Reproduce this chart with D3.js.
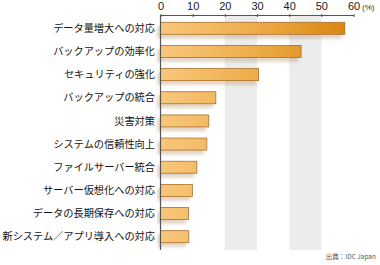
<!DOCTYPE html>
<meta charset="utf-8">
<html>
<head>
<style>
  body { margin: 0; background: #fff; }
  svg { display: block; font-family: "Noto Sans CJK JP", "Noto Sans", sans-serif; }
</style>
</head>
<body>
<div id="chart"></div>
<script src="https://cdn.jsdelivr.net/npm/d3@7/dist/d3.min.js"></script>
<script>
// data
var categories = ["データ量増大への対応", "バックアップの効率化", "セキュリティの強化", "バックアップの統合",
  "災害対策", "システムの信頼性向上", "ファイルサーバー統合", "サーバー仮想化への対応",
  "データの長期保存への対応", "新システム／アプリ導入への対応"];
var values = [57.3, 43.7, 30.5, 17.2, 15.0, 14.4, 11.3, 9.9, 8.7, 8.8];
var ticks = [0, 10, 20, 30, 40, 50, 60];
var bands = [[20, 30], [40, 50]];

var W = 380, H = 265;
var svg = d3.select("#chart").append("svg")
  .attr("width", W).attr("height", H);

var x = d3.scaleLinear().domain([0, 60]).range([160.5, 353.5]);
var y = d3.scalePoint().domain(categories).range([28.3, 236.7]);
var barH = 12;
var axisY = 15, plotBottom = 250;

var defs = svg.append("defs");
var grad = defs.append("linearGradient").attr("id", "barGrad")
  .attr("gradientUnits", "userSpaceOnUse")
  .attr("x1", x(0)).attr("x2", x(58)).attr("y1", 0).attr("y2", 0);
grad.append("stop").attr("offset", "0%").attr("stop-color", "#f8c77c");
grad.append("stop").attr("offset", "45%").attr("stop-color", "#f0b050");
grad.append("stop").attr("offset", "100%").attr("stop-color", "#d9860f");

var f = defs.append("filter").attr("id", "shadow")
  .attr("x", "-10%").attr("y", "-30%").attr("width", "120%").attr("height", "200%");
f.append("feGaussianBlur").attr("in", "SourceAlpha").attr("stdDeviation", 1.6).attr("result", "b");
f.append("feOffset").attr("in", "b").attr("dx", -3).attr("dy", 4).attr("result", "o");
f.append("feFlood").attr("flood-color", "#b08a60").attr("flood-opacity", 0.35);
f.append("feComposite").attr("in2", "o").attr("operator", "in").attr("result", "s");
var m = f.append("feMerge");
m.append("feMergeNode").attr("in", "s");
m.append("feMergeNode").attr("in", "SourceGraphic");

// gray bands
svg.selectAll("rect.band").data(bands).enter().append("rect")
  .attr("class", "band")
  .attr("x", function(d) { return x(d[0]); })
  .attr("width", function(d) { return x(d[1]) - x(d[0]); })
  .attr("y", axisY + 1).attr("height", plotBottom - axisY - 1)
  .attr("fill", "#ececec");

// bars
svg.selectAll("rect.bar").data(values).enter().append("rect")
  .attr("class", "bar")
  .attr("x", x(0))
  .attr("y", function(d, i) { return y(categories[i]) - barH / 2; })
  .attr("width", function(d) { return x(d) - x(0); })
  .attr("height", barH)
  .attr("fill", "url(#barGrad)")
  .attr("stroke", "#a9702a")
  .attr("stroke-width", 0.8)
  .attr("filter", "url(#shadow)");

// axis lines
svg.append("line").attr("x1", x(0)).attr("x2", x(0)).attr("y1", axisY).attr("y2", plotBottom)
  .attr("stroke", "#555").attr("stroke-width", 1.2);
var ax = svg.append("g").attr("transform", "translate(0," + axisY + ")")
  .call(d3.axisTop(x).tickValues(ticks).tickSize(3).tickSizeOuter(0).tickPadding(2));
ax.select(".domain").attr("stroke", "#555").attr("stroke-width", 1.2);
ax.selectAll(".tick line").attr("stroke", "#555").attr("transform", "translate(0,2)");
ax.selectAll(".tick text").attr("font-size", 11).attr("fill", "#222")
  .attr("font-family", "Liberation Sans, Arial, sans-serif");

svg.append("text").attr("x", 362).attr("y", 10).attr("font-size", 8).attr("fill", "#333")
  .attr("font-family", "Liberation Sans, Arial, sans-serif").text("(%)");

// category labels
svg.selectAll("text.lab").data(categories).enter().append("text")
  .attr("class", "lab")
  .attr("x", 155)
  .attr("y", function(d) { return y(d); })
  .attr("dy", "0.36em")
  .attr("text-anchor", "end")
  .attr("font-size", 10.2)
  .attr("fill", "#111")
  .text(function(d) { return d; });

svg.append("text").attr("x", 376).attr("y", 259).attr("text-anchor", "end")
  .attr("font-size", 6.5).attr("fill", "#555").text("出典：IDC Japan");
</script>
</body>
</html>
